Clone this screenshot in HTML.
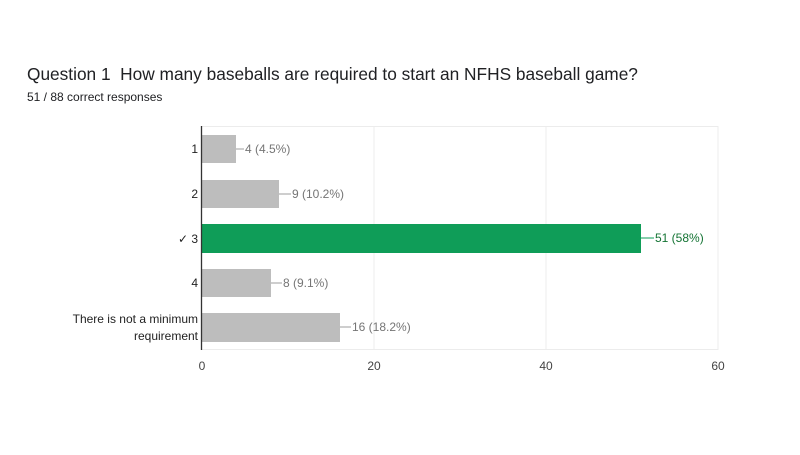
<!DOCTYPE html>
<html><head><style>
body{margin:0;background:#fff;width:800px;height:450px;overflow:hidden;font-family:"Liberation Sans",Arial,sans-serif;}
</style></head><body>
<svg width="800" height="450" xmlns="http://www.w3.org/2000/svg" font-family="Liberation Sans, Arial, sans-serif">
<text x="27" y="80" font-size="17.3" fill="#202124">Question 1&#160; How many baseballs are required to start an NFHS baseball game?</text>
<text x="27" y="101" font-size="12" fill="#202124">51 / 88 correct responses</text>
<g stroke="#ececec" stroke-width="1">
<line x1="374" y1="126" x2="374" y2="350"/>
<line x1="546" y1="126" x2="546" y2="350"/>
<line x1="718" y1="126" x2="718" y2="350"/>
<line x1="202" y1="126.5" x2="718" y2="126.5"/>
<line x1="202" y1="349.5" x2="718" y2="349.5"/>
</g>
<rect x="202" y="135" width="34" height="28" fill="#bdbdbd"/>
<rect x="202" y="180" width="77" height="28" fill="#bdbdbd"/>
<rect x="202" y="224" width="439" height="29" fill="#0f9d58"/>
<rect x="202" y="269" width="69" height="28" fill="#bdbdbd"/>
<rect x="202" y="313" width="138" height="29" fill="#bdbdbd"/>
<line x1="201.5" y1="126" x2="201.5" y2="350" stroke="#333" stroke-width="1.3"/>
<g font-size="12" fill="#757575">
<line x1="236" y1="149" x2="244" y2="149" stroke="#9e9e9e"/><text x="245" y="153">4 (4.5%)</text>
<line x1="279" y1="194" x2="291" y2="194" stroke="#9e9e9e"/><text x="292" y="198">9 (10.2%)</text>
<line x1="271" y1="283" x2="282" y2="283" stroke="#9e9e9e"/><text x="283" y="287">8 (9.1%)</text>
<line x1="340" y1="327" x2="351" y2="327" stroke="#9e9e9e"/><text x="352" y="331">16 (18.2%)</text>
</g>
<line x1="641" y1="238" x2="654" y2="238" stroke="#0f9d58"/><text x="655" y="242" font-size="12" fill="#137333">51 (58%)</text>
<g font-size="12" fill="#222" text-anchor="end">
<text x="198" y="153">1</text>
<text x="198" y="198">2</text>
<text x="198" y="243">✓ 3</text>
<text x="198" y="287">4</text>
<text x="198" y="323">There is not a minimum</text>
<text x="198" y="340">requirement</text>
</g>
<g font-size="12" fill="#444" text-anchor="middle">
<text x="202" y="370">0</text><text x="374" y="370">20</text><text x="546" y="370">40</text><text x="718" y="370">60</text>
</g>
</svg>
</body></html>
